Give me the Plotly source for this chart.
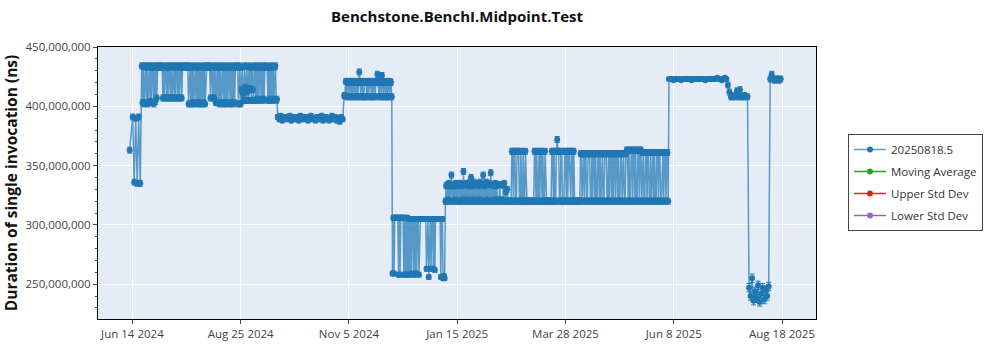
import pandas as pd
import plotly.graph_objects as go

# Benchmark results, in millions of nanoseconds.
# Each run is a block of evenly sampled results starting on run_starts[i],
# one result every run_freqs[i].
run_starts = [
    "2024-06-13", "2024-06-15", "2024-06-21", "2024-09-19", "2024-11-02",
    "2024-12-04", "2025-01-08", "2025-02-20", "2025-06-05", "2025-07-14",
    "2025-07-28", "2025-08-11",
]
run_freqs = ["1D", "1D", "12h", "1D", "12h", "12h", "12h", "12h", "1D", "1D", "1D", "1D"]
# Half-width of the error bar for every point of a run (millions of ns)
run_errors = [2.5, 2.5, 2.5, 2.0, 2.5, 2.0, 2.5, 2.5, 1.0, 2.5, 3.5, 2.5]

jun_2024_first = [363]
jun_2024_warmup = [391, 336, 390, 335, 391, 335]
jun_sep_2024 = [
    434, 403, 434, 402, 433, 434, 403, 434, 402, 433, 434, 404, 433, 403, 434, 434, 402, 433, 404, 434,
    407, 433, 434, 434, 433, 434, 433, 434, 407, 433, 407, 434, 433, 407, 434, 407, 433, 434, 407, 434,
    407, 433, 434, 407, 433, 407, 434, 434, 407, 433, 407, 434, 433, 407, 434, 433, 434, 433, 434, 433,
    434, 434, 402, 433, 434, 402, 433, 403, 434, 402, 433, 434, 403, 433, 402, 434, 403, 433, 402, 434,
    402, 433, 403, 434, 402, 433, 434, 433, 434, 434, 433, 407, 433, 434, 407, 433, 407, 434, 403, 433,
    434, 403, 433, 402, 434, 403, 433, 434, 402, 433, 403, 434, 402, 433, 403, 434, 433, 402, 434, 403,
    433, 402, 434, 403, 433, 434, 433, 434, 402, 433, 434, 402, 414, 433, 411, 405, 434, 416, 405, 434,
    412, 405, 433, 415, 434, 405, 433, 414, 405, 434, 433, 405, 434, 406, 433, 405, 434, 433, 406, 434,
    405, 433, 406, 434, 433, 434, 433, 405, 433, 405, 434, 406, 433, 405, 434, 406, 433, 434, 405, 406,
]
sep_nov_2024 = [
    391, 389, 392, 388, 390, 391, 389, 390, 392, 388, 391, 390, 389, 391, 388,
    392, 390, 389, 391, 390, 388, 391, 392, 389, 390, 388, 391, 389, 390, 392,
    388, 390, 391, 389, 388, 390, 392, 389, 391, 388, 390, 387, 391, 389,
]
nov_dec_2024 = [
    409, 409, 421, 408, 421, 420, 408, 421, 420, 408, 421, 421, 408, 420, 421, 408, 420, 420, 408, 421,
    429, 420, 408, 421, 420, 408, 408, 421, 420, 420, 408, 421, 408, 420, 421, 421, 408, 420, 408, 421,
    420, 408, 421, 420, 427, 421, 408, 420, 420, 408, 426, 421, 408, 420, 421, 408, 420, 408, 421, 420,
    408, 421, 420, 408,
]
dec_2024_jan_2025 = [
    259, 306, 259, 306, 306, 306, 306, 306, 258, 306, 258, 306, 306, 306, 306, 258, 306, 258, 306, 258,
    306, 258, 305, 258, 305, 259, 305, 305, 258, 305, 258, 305, 259, 305, 305, 258, 305, 305, 305, 305,
    305, 305, 305, 305, 305, 263, 305, 305, 256, 305, 305, 263, 305, 305, 263, 305, 262, 305, 305, 305,
    305, 305, 305, 305, 256, 305, 305, 255, 257, 255,
]
jan_feb_2025 = [
    320, 333, 320, 334, 321, 335, 320, 333, 342, 320, 333, 320, 334, 321, 335, 320, 333, 320, 334, 320,
    335, 320, 333, 321, 345, 320, 334, 320, 335, 321, 333, 320, 336, 320, 340, 320, 333, 321, 336, 320,
    334, 320, 335, 320, 333, 321, 336, 320, 334, 320, 342, 320, 333, 320, 336, 321, 334, 320, 335, 320,
    344, 320, 334, 320, 333, 321, 335, 320, 333, 320, 321, 320, 334, 320, 320, 321, 320, 333, 335, 320,
    328, 320, 330, 320, 320, 320,
]
feb_jun_2025 = [
    # Feb 20 - Mar 1
    320, 320, 362, 362, 320, 362, 362, 320, 320, 362, 362, 362, 320, 320, 362, 320, 320, 362, 320, 320,
    # Mar 2 - Mar 11
    362, 320, 320, 320, 320, 320, 320, 320, 320, 320, 320, 320, 362, 362, 320, 362, 320, 320, 362, 320,
    # Mar 12 - Mar 21
    362, 362, 320, 362, 320, 320, 362, 320, 320, 320, 320, 320, 320, 320, 320, 362, 362, 320, 362, 320,
    # Mar 22 - Mar 31
    320, 362, 372, 362, 362, 320, 320, 362, 362, 320, 320, 320, 362, 362, 320, 362, 320, 362, 362, 320,
    # Apr 1 - Apr 10
    320, 362, 362, 320, 362, 320, 320, 320, 320, 320, 320, 320, 320, 360, 360, 320, 360, 360, 320, 360,
    # Apr 11 - Apr 20
    360, 320, 320, 360, 360, 360, 320, 320, 360, 320, 360, 360, 320, 360, 320, 320, 360, 360, 320, 360,
    # Apr 21 - Apr 30
    320, 360, 360, 320, 320, 360, 360, 360, 320, 320, 360, 320, 360, 360, 320, 360, 320, 360, 360, 320,
    # May 1 - May 10
    360, 360, 320, 360, 320, 320, 360, 360, 320, 360, 360, 320, 320, 360, 363, 363, 320, 363, 320, 320,
    # May 11 - May 20
    363, 363, 320, 363, 363, 320, 363, 320, 320, 363, 363, 320, 363, 363, 320, 361, 361, 320, 320, 361,
    # May 21 - May 30
    361, 320, 361, 361, 320, 320, 361, 320, 361, 361, 320, 361, 320, 320, 361, 361, 320, 361, 361, 320,
    # May 31 - Jun 4
    320, 361, 361, 320, 361, 361, 320, 361, 361, 320,
]
jun_jul_2025 = [
    423, 423, 423, 422, 423, 423, 423, 423, 422, 423,
    423, 423, 423, 423, 423, 422, 423, 423, 423, 423,
    423, 423, 423, 423, 422, 423, 423, 423, 423, 423,
    423, 423, 424, 423, 423, 422, 423, 424, 423,
]
jul_2025_step = [418, 412, 408, 408, 409, 408, 413, 408, 414, 408, 408, 409, 408, 408]
jul_aug_2025_dip = [247, 240, 255, 236, 244, 238, 249, 235, 242, 247, 237, 245, 240, 248]
aug_2025_latest = [423, 427, 423, 422, 423, 423, 422, 423]

runs = [
    jun_2024_first, jun_2024_warmup, jun_sep_2024, sep_nov_2024, nov_dec_2024,
    dec_2024_jan_2025, jan_feb_2025, feb_jun_2025, jun_jul_2025, jul_2025_step,
    jul_aug_2025_dip, aug_2025_latest,
]

# Statistics series (no samples recorded for this benchmark)
moving_average = []
upper_std_dev = []
lower_std_dev = []

# Axis ticks
x_ticks = [
    "2024-06-14 20:00", "2024-08-25 12:00", "2024-11-05 04:00",
    "2025-01-15 20:00", "2025-03-28 12:00", "2025-06-08 04:00",
    "2025-08-18 20:00",
]
y_ticks = [250e6, 300e6, 350e6, 400e6, 450e6]

dates, durations, errors = [], [], []
for start, freq, err, values in zip(run_starts, run_freqs, run_errors, runs):
    stamps = pd.date_range(start, periods=len(values), freq=freq)
    dates.extend(stamps)
    durations.extend(v * 1e6 for v in values)
    errors.extend([err * 1e6] * len(values))

BLUE = "#1f77b4"
FONT = "Open Sans"

fig = go.Figure()
fig.add_trace(go.Scatter(
    x=dates, y=durations, name="20250818.5", mode="lines+markers",
    line=dict(color="rgba(31,119,180,0.72)", width=1.5),
    marker=dict(color=BLUE, size=6),
    error_y=dict(type="data", array=errors, visible=True, color=BLUE,
                 thickness=1, width=2.5),
    legendgroup="a",
))
for name, color, series in [
    ("Moving Average", "#2ca02c", moving_average),
    ("Upper Std Dev", "#d62728", upper_std_dev),
    ("Lower Std Dev", "#9467bd", lower_std_dev),
]:
    fig.add_trace(go.Scatter(
        x=[None] if not series else dates[:len(series)],
        y=[None] if not series else series,
        name=name, mode="lines+markers",
        line=dict(color=color, width=1.5), marker=dict(color=color, size=6),
        legendgroup=name,
    ))

# Drop shadow behind the legend box
fig.add_shape(type="rect", xref="paper", yref="paper", layer="below",
              x0=(851 - 98) / 718, x1=(983 - 98) / 718,
              y0=(319 - 231) / 272, y1=(319 - 139) / 272,
              fillcolor="#9a9a9a", line=dict(width=0))

fig.update_layout(
    width=1000, height=350,
    margin=dict(l=98, r=184, t=47, b=31, autoexpand=False),
    paper_bgcolor="white", plot_bgcolor="#e5ecf6",
    font=dict(family=FONT, size=11.5, color="#444"),
    title=dict(text="<b>Benchstone.BenchI.Midpoint.Test</b>",
               x=0.5, xref="paper", y=1 - 17 / 350, yanchor="middle",
               font=dict(family=FONT, size=15, color="#111")),
    showlegend=True,
    legend=dict(x=(848 - 98) / 718, y=(319 - 134) / 272,
                xanchor="left", yanchor="top",
                bgcolor="white", bordercolor="#444", borderwidth=1,
                font=dict(family=FONT, size=11.5, color="#333"),
                tracegroupgap=3, itemwidth=32),
)
fig.update_xaxes(
    type="date", range=["2024-05-23 01:00", "2025-09-10 08:00"],
    tickvals=x_ticks, tickformat="%b %-d %Y",
    showgrid=True, gridcolor="white", gridwidth=1,
    showline=True, linecolor="black", linewidth=1, mirror=True,
    ticks="outside", ticklen=4, tickcolor="#444",
    zeroline=False,
)
fig.update_yaxes(
    range=[220.6e6, 450e6], tickvals=y_ticks, tickformat=",d",
    showgrid=True, gridcolor="white", gridwidth=1,
    showline=True, linecolor="black", linewidth=1, mirror=True,
    ticks="outside", ticklen=4, tickcolor="#444",
    minor=dict(dtick=10e6, tick0=0, ticks="outside", ticklen=2,
               tickcolor="#444", showgrid=False),
    zeroline=False,
    title=dict(text="<b>Duration of single invocation (ns)</b>",
               font=dict(family=FONT, size=15.5, color="#111"), standoff=4),
)

fig.write_html("out.html")
